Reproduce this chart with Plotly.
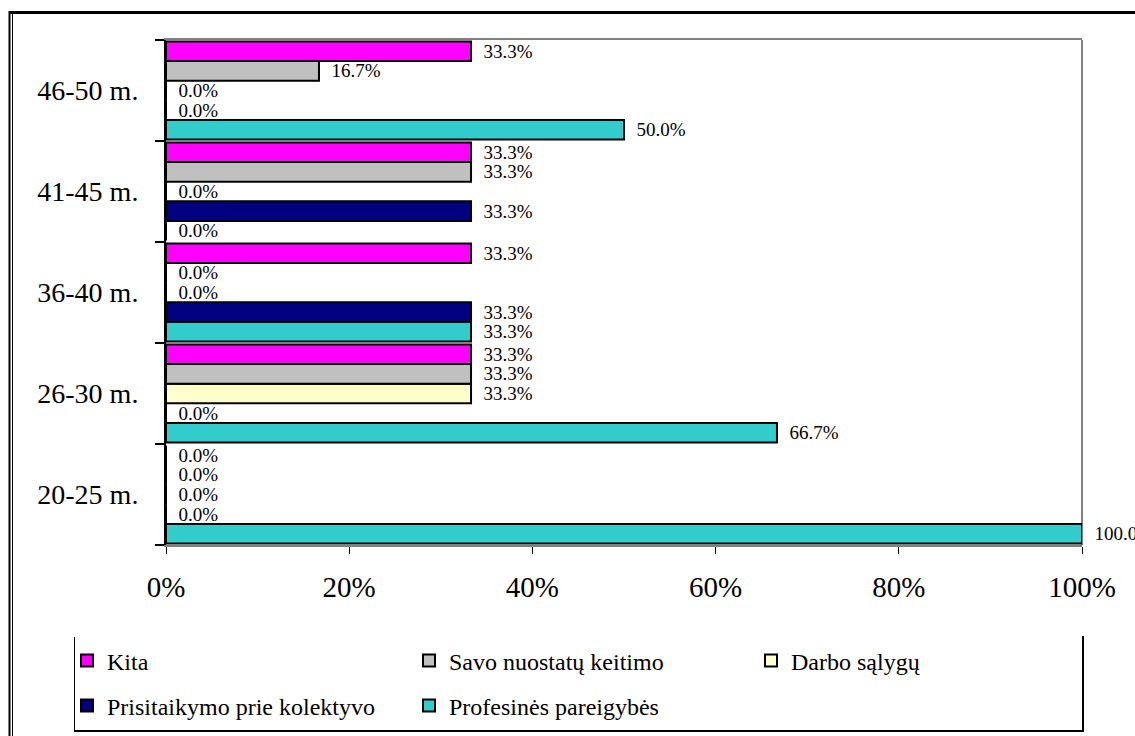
import plotly.graph_objects as go

# Age groups (bottom to top) and the share of each reason, in percent
age_groups = ["20-25 m.", "26-30 m.", "36-40 m.", "41-45 m.", "46-50 m."]
profesines = [100.0, 66.7, 33.3, 0.0, 50.0]
prisitaikymo = [0.0, 0.0, 33.3, 33.3, 0.0]
darbo = [0.0, 33.3, 0.0, 0.0, 0.0]
savo = [0.0, 33.3, 0.0, 33.3, 16.7]
kita = [0.0, 33.3, 33.3, 33.3, 33.3]
x_ticks = [0, 20, 40, 60, 80, 100]

W, H = 1135, 736
L, R, T, B = 166, 1082, 40, 545  # plot area in pixels


def px(x):
    return (x - L) / (R - L)


def py(y):
    return (B - y) / (B - T)


SERIF = "Liberation Serif, Times New Roman, serif"

# (name, values, fill colour, legend, rank) -- first trace sits at the bottom of each group
series = [
    ("Profesinės pareigybės", profesines, "#33CCCC", "legend2", 5),
    ("Prisitaikymo prie kolektyvo", prisitaikymo, "#000080", "legend2", 4),
    ("Darbo sąlygų", darbo, "#FFFFCC", "legend", 3),
    ("Savo nuostatų keitimo", savo, "#C0C0C0", "legend", 2),
    ("Kita", kita, "#FF00FF", "legend", 1),
]

fig = go.Figure()
for name, vals, color, leg, rank in series:
    fig.add_trace(go.Bar(
        name=name,
        y=age_groups,
        x=vals,
        orientation="h",
        marker=dict(color=color, line=dict(color="black", width=2)),
        texttemplate="\u2002%{x:.1f}%",
        textposition="outside",
        constraintext="none",
        cliponaxis=False,
        textfont=dict(family=SERIF, size=19, color="black"),
        legend=leg,
        legendrank=rank,
    ))

shapes = [
    # right edge of the plot area
    dict(type="line", xref="paper", yref="paper", x0=1, x1=1, y0=0, y1=1,
         line=dict(color="#808080", width=2), layer="below"),
    # outer frame: top line and double left line
    dict(type="line", xref="paper", yref="paper", x0=px(9), x1=px(1140), y0=py(12.5), y1=py(12.5),
         line=dict(color="black", width=3)),
    dict(type="line", xref="paper", yref="paper", x0=px(9.5), x1=px(9.5), y0=py(11), y1=py(740),
         line=dict(color="black", width=2)),
    dict(type="line", xref="paper", yref="paper", x0=px(12.5), x1=px(12.5), y0=py(14), y1=py(740),
         line=dict(color="black", width=1)),
    # legend box (left, bottom, right)
    dict(type="line", xref="paper", yref="paper", x0=px(74.5), x1=px(74.5), y0=py(637), y1=py(731),
         line=dict(color="black", width=1)),
    dict(type="line", xref="paper", yref="paper", x0=px(74), x1=px(1084), y0=py(731), y1=py(731),
         line=dict(color="black", width=2)),
    dict(type="line", xref="paper", yref="paper", x0=px(1083), x1=px(1083), y0=py(636), y1=py(731),
         line=dict(color="black", width=2)),
]

legend_common = dict(
    orientation="h",
    xanchor="left",
    yanchor="middle",
    x=px(67),
    entrywidth=297,
    entrywidthmode="pixels",
    font=dict(family=SERIF, size=24, color="black"),
    bgcolor="rgba(0,0,0,0)",
    borderwidth=0,
    itemclick=False,
)

fig.update_layout(
    width=W,
    height=H,
    margin=dict(l=L, r=W - R, t=T, b=H - B, autoexpand=False),
    paper_bgcolor="white",
    plot_bgcolor="white",
    barmode="group",
    bargap=0.03,
    bargroupgap=0,
    shapes=shapes,
    legend=dict(legend_common, y=py(661)),
    legend2=dict(legend_common, y=py(706)),
    xaxis=dict(
        range=[0, 100],
        tickvals=x_ticks,
        ticktext=[f"{v}%" for v in x_ticks],
        showgrid=False,
        zeroline=False,
        showline=True,
        linecolor="#808080",
        linewidth=2,
        mirror=True,
        ticks="outside",
        ticklen=7,
        tickcolor="black",
        tickwidth=1,
        ticklabelstandoff=8,
        tickfont=dict(family=SERIF, size=29, color="black"),
    ),
    yaxis=dict(
        categoryorder="array",
        categoryarray=age_groups,
        showgrid=False,
        zeroline=False,
        showline=True,
        linecolor="black",
        linewidth=2,
        ticks="outside",
        tickson="boundaries",
        ticklen=9,
        tickcolor="black",
        tickwidth=2,
        ticklabelstandoff=20,
        tickfont=dict(family=SERIF, size=28, color="black"),
    ),
)

fig.write_html("out.html")
